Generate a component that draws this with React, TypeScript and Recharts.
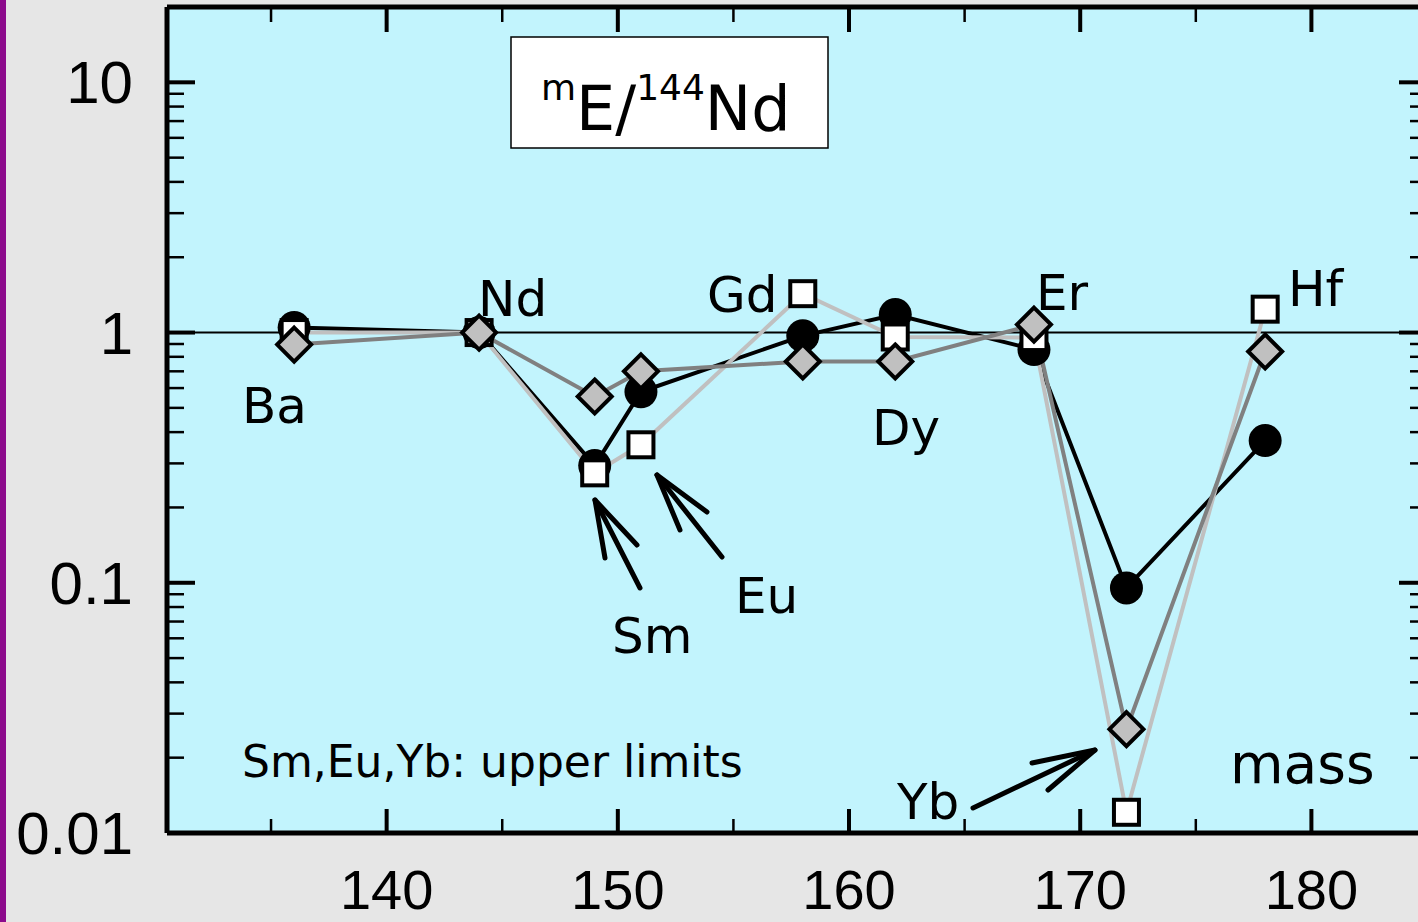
import React from "react";
import {
  ComposedChart,
  Line,
  XAxis,
  YAxis,
  ReferenceLine,
  CartesianGrid,
} from "recharts";

// ---- data ----
const masses = [136, 144, 149, 151, 158, 162, 168, 172, 178];
const circleVals = [1.047, 1.0, 0.294, 0.58, 0.97, 1.18, 0.855, 0.0954, 0.37];
const squareVals = [1.0, 1.0, 0.275, 0.356, 1.43, 0.96, 0.955, 0.0121, 1.24];
const diamondVals = [0.895, 1.0, 0.555, 0.7, 0.766, 0.766, 1.076, 0.026, 0.84];

const xTicks = [135, 140, 145, 150, 155, 160, 165, 170, 175, 180, 185];
const yTicks = [
  0.01, 0.02, 0.03, 0.04, 0.05, 0.06, 0.07, 0.08, 0.09,
  0.1, 0.2, 0.3, 0.4, 0.5, 0.6, 0.7, 0.8, 0.9,
  1, 2, 3, 4, 5, 6, 7, 8, 9,
  10, 20,
];
const yTickLabels: Record<string, string> = { "0.01": "0.01", "0.1": "0.1", "1": "1", "10": "10" };

const data = masses.map((m, i) => ({
  mass: m,
  circle: circleVals[i],
  square: squareVals[i],
  diamond: diamondVals[i],
}));

const LABEL_FONT = "'DejaVu Sans', sans-serif";
const TICK_FONT = "'Liberation Sans', Arial, sans-serif";

const isMajorY = (v: number) => {
  const l = Math.log10(v);
  return Math.abs(l - Math.round(l)) < 1e-9;
};

const BottomTick = (props: any) => {
  const { x, y, payload } = props;
  const v = payload.value;
  const major = v % 10 === 0;
  return (
    <g>
      <line x1={x} y1={y} x2={x} y2={y - (major ? 24 : 14)} stroke="#000" strokeWidth={major ? 4 : 2.5} />
      {major && v >= 140 && v <= 180 ? (
        <text x={x} y={y + 76} textAnchor="middle" fontFamily={TICK_FONT} fontSize={56} fill="#000">
          {v}
        </text>
      ) : null}
    </g>
  );
};

const TopTick = (props: any) => {
  const { x, y, payload } = props;
  const major = payload.value % 10 === 0;
  return <line x1={x} y1={y} x2={x} y2={y + (major ? 25 : 15)} stroke="#000" strokeWidth={major ? 4 : 2.5} />;
};

const LeftTick = (props: any) => {
  const { x, y, payload } = props;
  const v = payload.value;
  const major = isMajorY(v);
  const lab = yTickLabels[String(v)];
  return (
    <g>
      <line x1={x} y1={y} x2={x + (major ? 28 : 17)} y2={y} stroke="#000" strokeWidth={major ? 4 : 2.5} />
      {lab ? (
        <text x={x - 34} y={y + 21} textAnchor="end" fontFamily={TICK_FONT} fontSize={60} fill="#000">
          {lab}
        </text>
      ) : null}
    </g>
  );
};

const RightTick = (props: any) => {
  const { x, y, payload } = props;
  const major = isMajorY(payload.value);
  return <line x1={x} y1={y} x2={x - (major ? 28 : 17)} y2={y} stroke="#000" strokeWidth={major ? 4 : 2.5} />;
};

const CircleDot = (props: any) => {
  const { cx, cy, index } = props;
  return <circle key={`c${index}`} cx={cx} cy={cy} r={16.5} fill="#000" />;
};
const SquareDot = (props: any) => {
  const { cx, cy, index } = props;
  return <rect key={`s${index}`} x={cx - 12.5} y={cy - 12.5} width={25} height={25} fill="#fff" stroke="#000" strokeWidth={4} />;
};
const DiamondDot = (props: any) => {
  const { cx, cy, index } = props;
  const r = 17;
  return (
    <polygon
      key={`d${index}`}
      points={`${cx},${cy - r} ${cx + r},${cy} ${cx},${cy + r} ${cx - r},${cy}`}
      fill="#c0c0c0"
      stroke="#000"
      strokeWidth={4}
      strokeLinejoin="miter"
    />
  );
};

const Arrow = ({ x1, y1, x2, y2, b1, b2 }: { x1: number; y1: number; x2: number; y2: number; b1: [number, number]; b2: [number, number] }) => (
  <g stroke="#000" strokeWidth={5} strokeLinecap="round" fill="none">
    <line x1={x1} y1={y1} x2={x2} y2={y2} />
    <polyline points={`${b1[0]},${b1[1]} ${x2},${y2} ${b2[0]},${b2[1]}`} strokeLinejoin="round" />
  </g>
);

const elementLabels = [
  { t: "Ba", x: 242, y: 423 },
  { t: "Nd", x: 478, y: 316 },
  { t: "Gd", x: 707, y: 312 },
  { t: "Dy", x: 872, y: 445 },
  { t: "Er", x: 1036, y: 310 },
  { t: "Hf", x: 1288, y: 306 },
  { t: "Sm", x: 612, y: 653 },
  { t: "Eu", x: 735, y: 613 },
  { t: "Yb", x: 897, y: 819 },
];

export default function App() {
  return (
    <div
      style={{
        position: "absolute",
        left: 0,
        top: 0,
        width: 1418,
        height: 922,
        overflow: "hidden",
        background: "#e6e6e6",
      }}
    >
      <div style={{ position: "absolute", left: 0, top: 0, width: 6, height: 922, background: "#8c0a8c" }} />
      <div style={{ position: "absolute", left: 0, top: 0 }}>
        <ComposedChart width={1440} height={922} data={data} margin={{ top: 5, right: 11, bottom: 0, left: 0 }}>
          <CartesianGrid horizontal={false} vertical={false} fill="#c2f4fd" fillOpacity={1} />
          <XAxis
            xAxisId="b"
            dataKey="mass"
            type="number"
            domain={[130.5, 185]}
            ticks={xTicks}
            interval={0}
            allowDataOverflow
            orientation="bottom"
            height={89}
            tickSize={0}
            tickMargin={0}
            tickLine={false}
            axisLine={{ stroke: "#000", strokeWidth: 5 }}
            tick={<BottomTick />}
          />
          <XAxis
            xAxisId="t"
            dataKey="mass"
            type="number"
            domain={[130.5, 185]}
            ticks={xTicks}
            interval={0}
            allowDataOverflow
            orientation="top"
            height={2}
            tickSize={0}
            tickMargin={0}
            tickLine={false}
            axisLine={{ stroke: "#000", strokeWidth: 5 }}
            tick={<TopTick />}
          />
          <YAxis
            yAxisId="l"
            type="number"
            scale="log"
            domain={[0.01, 20]}
            ticks={yTicks}
            interval={0}
            allowDataOverflow
            orientation="left"
            width={167}
            tickSize={0}
            tickMargin={0}
            tickLine={false}
            axisLine={{ stroke: "#000", strokeWidth: 5 }}
            tick={<LeftTick />}
          />
          <YAxis
            yAxisId="r"
            type="number"
            scale="log"
            domain={[0.01, 20]}
            ticks={yTicks}
            interval={0}
            allowDataOverflow
            orientation="right"
            width={2}
            tickSize={0}
            tickMargin={0}
            tickLine={false}
            axisLine={{ stroke: "#000", strokeWidth: 5 }}
            tick={<RightTick />}
          />
          <ReferenceLine xAxisId="b" yAxisId="l" y={1} stroke="#000" strokeWidth={2} />
          <Line
            xAxisId="b"
            yAxisId="l"
            type="linear"
            dataKey="circle"
            stroke="#000"
            strokeWidth={4}
            dot={<CircleDot />}
            activeDot={false}
            isAnimationActive={false}
          />
          <Line
            xAxisId="b"
            yAxisId="l"
            type="linear"
            dataKey="square"
            stroke="#c0c0c0"
            strokeWidth={4}
            dot={<SquareDot />}
            activeDot={false}
            isAnimationActive={false}
          />
          <Line
            xAxisId="b"
            yAxisId="l"
            type="linear"
            dataKey="diamond"
            stroke="#808080"
            strokeWidth={4}
            dot={<DiamondDot />}
            activeDot={false}
            isAnimationActive={false}
          />
        </ComposedChart>
      </div>
      <svg
        width={1418}
        height={922}
        style={{ position: "absolute", left: 0, top: 0, pointerEvents: "none" }}
      >
        <rect x={511} y={37} width={317} height={111} fill="#fff" stroke="#000" strokeWidth={1.5} />
        <text x={541} y={130} fontFamily={LABEL_FONT} fill="#000">
          <tspan fontSize={36} dy={-30}>m</tspan>
          <tspan fontSize={62} dy={30}>E/</tspan>
          <tspan fontSize={36} dy={-30}>144</tspan>
          <tspan fontSize={62} dy={30}>Nd</tspan>
        </text>
        {elementLabels.map((l) => (
          <text key={l.t} x={l.x} y={l.y} fontFamily={LABEL_FONT} fontSize={50} fill="#000">
            {l.t}
          </text>
        ))}
        <text x={242} y={777} fontFamily={LABEL_FONT} fontSize={44} fill="#000">
          Sm,Eu,Yb: upper limits
        </text>
        <text x={1230} y={783} fontFamily={LABEL_FONT} fontSize={55} fill="#000">
          mass
        </text>
        <Arrow x1={640} y1={588} x2={595} y2={500} b1={[605, 558]} b2={[637, 545]} />
        <Arrow x1={722} y1={557} x2={657} y2={475} b1={[680, 530]} b2={[707, 512]} />
        <Arrow x1={973} y1={808} x2={1095} y2={750} b1={[1032, 763]} b2={[1048, 790]} />
      </svg>
    </div>
  );
}
